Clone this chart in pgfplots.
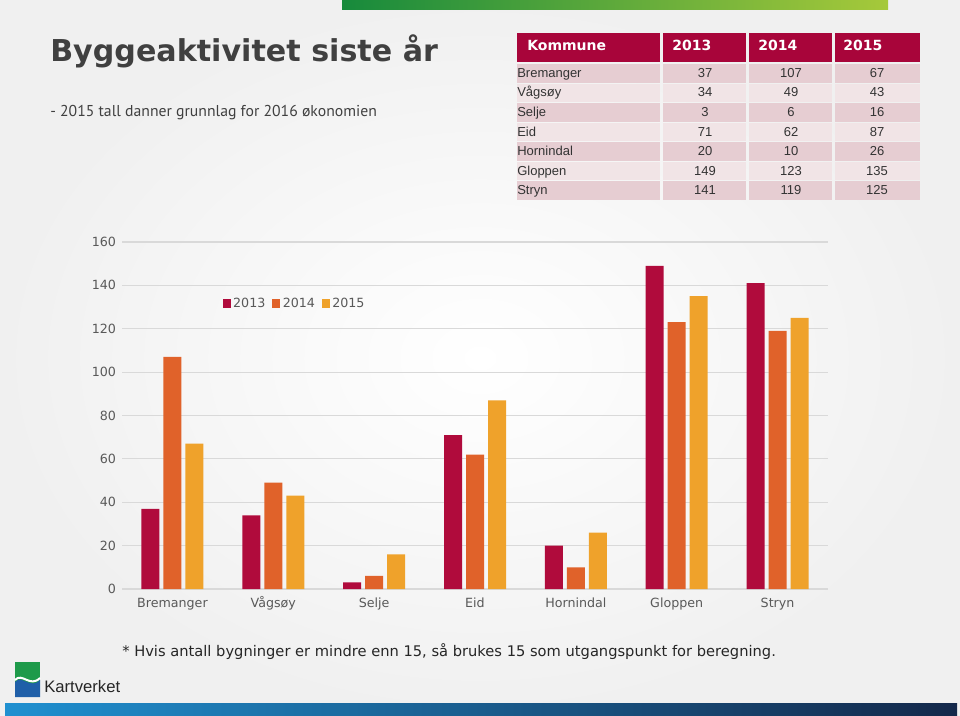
\documentclass[border=0pt]{standalone}
\usepackage{pgfplots}
\pgfplotsset{compat=1.18}
\usepackage{fontspec}
\setmainfont{DejaVu Sans}
\newfontfamily\arialf{Liberation Sans}
\newfontfamily\ptsans{PT Sans}
\definecolor{c13}{HTML}{B00B3C}
\definecolor{c14}{HTML}{E0622A}
\definecolor{c15}{HTML}{EFA22B}
\definecolor{hdr}{HTML}{A8053A}
\definecolor{rowA}{HTML}{E6CDD2}
\definecolor{rowB}{HTML}{F1E4E6}
\definecolor{bg}{HTML}{F0F0F0}
\definecolor{txt}{HTML}{404040}
\definecolor{tick}{HTML}{595959}
\definecolor{gridc}{HTML}{D9D9D9}
\definecolor{gA}{HTML}{178A3C}
\definecolor{gB}{HTML}{A6C93A}
\definecolor{bA}{HTML}{2090D0}
\definecolor{bB}{HTML}{14284A}
\definecolor{logoG}{HTML}{1E9A4A}
\definecolor{logoB}{HTML}{1F5FA8}
\begin{document}
\begin{tikzpicture}
\begin{scope}[x=0.75pt,y=-0.75pt]
\useasboundingbox (0,0) rectangle (960,716);
\shade[inner color=white,outer color=bg] (0,0) rectangle (960,716);
% top green bar
\shade[left color=gA,right color=gB] (342,0) rectangle (888,10);
% bottom blue bar
\shade[left color=bA,right color=bB] (5,703) rectangle (957,715);
% title
\node[anchor=base west,inner sep=0,font=\bfseries\fontsize{22.6}{27}\selectfont,text=txt] at (50,62) {Byggeaktivitet siste år};
\node[anchor=base west,inner sep=0,font=\ptsans\fontsize{11.8}{14}\selectfont,text=txt] at (50,117) {- 2015 tall danner grunnlag for 2016 økonomien};
% table header
\fill[hdr] (517,33) rectangle (660,62);
\fill[hdr] (663,33) rectangle (746,62);
\fill[hdr] (749,33) rectangle (832,62);
\fill[hdr] (835,33) rectangle (920,62);
\begin{scope}[every node/.style={anchor=base west,inner sep=0,text=white,font=\bfseries\fontsize{10.5}{12}\selectfont}]
\node at (527,51) {Kommune};
\node at (672,51) {2013};
\node at (758,51) {2014};
\node at (843,51) {2015};
\end{scope}
\foreach \name/\a/\b/\c [count=\i from 0] in {Bremanger/37/107/67, Vågsøy/34/49/43, Selje/3/6/16, Eid/71/62/87, Hornindal/20/10/26, Gloppen/149/123/135, Stryn/141/119/125} {
  \pgfmathsetmacro\yt{64+\i*19.55}
  \pgfmathsetmacro\yb{\yt+18.6}
  \pgfmathsetmacro\ym{\yt+13.4}
  \ifodd\i \def\rc{rowB}\else\def\rc{rowA}\fi
  \fill[\rc] (517,\yt) rectangle (660,\yb);
  \fill[\rc] (663,\yt) rectangle (746,\yb);
  \fill[\rc] (749,\yt) rectangle (832,\yb);
  \fill[\rc] (835,\yt) rectangle (920,\yb);
  \node[anchor=base west,inner sep=0,font=\arialf\fontsize{9.75}{11}\selectfont,text=black!80] at (517,\ym) {\name};
  \node[anchor=base,inner sep=0,font=\arialf\fontsize{9.75}{11}\selectfont,text=black!80] at (705,\ym) {\a};
  \node[anchor=base,inner sep=0,font=\arialf\fontsize{9.75}{11}\selectfont,text=black!80] at (791,\ym) {\b};
  \node[anchor=base,inner sep=0,font=\arialf\fontsize{9.75}{11}\selectfont,text=black!80] at (877,\ym) {\c};
}
% footnote
\node[anchor=base west,inner sep=0,font=\fontsize{11}{13}\selectfont,text=black!85] at (122,656) {* Hvis antall bygninger er mindre enn 15, så brukes 15 som utgangspunkt for beregning.};
% logo
\fill[logoG] (15,662) rectangle (40,697);
\fill[logoB] (15,682) .. controls (22,674) and (30,690) .. (40,680) -- (40,697) -- (15,697) -- cycle;
\draw[white,line width=1.5pt] (15,680) .. controls (22,672) and (30,688) .. (40,678);
\node[anchor=base west,inner sep=0,font=\arialf\fontsize{12.5}{14}\selectfont,text=black!85] at (44,692) {Kartverket};
\end{scope}
\begin{axis}[
  at={(91.5pt,-441.75pt)}, anchor=south west,
  scale only axis, width=529.5pt, height=260.25pt,
  ybar=3pt, bar width=13.5pt,
  xmin=-0.5, xmax=6.5, ymin=0, ymax=160,
  xtick={0,...,6},
  xticklabels={Bremanger,Vågsøy,Selje,Eid,Hornindal,Gloppen,Stryn},
  ytick={0,20,...,160},
  axis line style={draw=none},
  major tick length=0pt,
  ymajorgrids, grid style={gridc,line width=0.8pt},
  tick label style={font=\fontsize{9.5}{11}\selectfont,text=tick},
  /pgf/number format/assume math mode=true,
  yticklabel style={xshift=-1pt},
  xticklabel style={yshift=-3pt,text height=7pt,text depth=2pt},
  legend columns=3,
  legend style={draw=none,fill=none,at={(rel axis cs:0.142,0.822)},anchor=west,
    font=\fontsize{9.5}{11}\selectfont,text=tick,inner sep=0pt,
    /tikz/every even column/.append style={column sep=3pt}},
  legend image code/.code={\fill[#1,draw=none] (0pt,-3.2pt) rectangle (6pt,3.2pt);},
]
\addplot[fill=c13,draw=none] coordinates {(0,37) (1,34) (2,3) (3,71) (4,20) (5,149) (6,141)};
\addplot[fill=c14,draw=none] coordinates {(0,107) (1,49) (2,6) (3,62) (4,10) (5,123) (6,119)};
\addplot[fill=c15,draw=none] coordinates {(0,67) (1,43) (2,16) (3,87) (4,26) (5,135) (6,125)};
\legend{2013,2014,2015}
\end{axis}
\end{tikzpicture}
\end{document}
